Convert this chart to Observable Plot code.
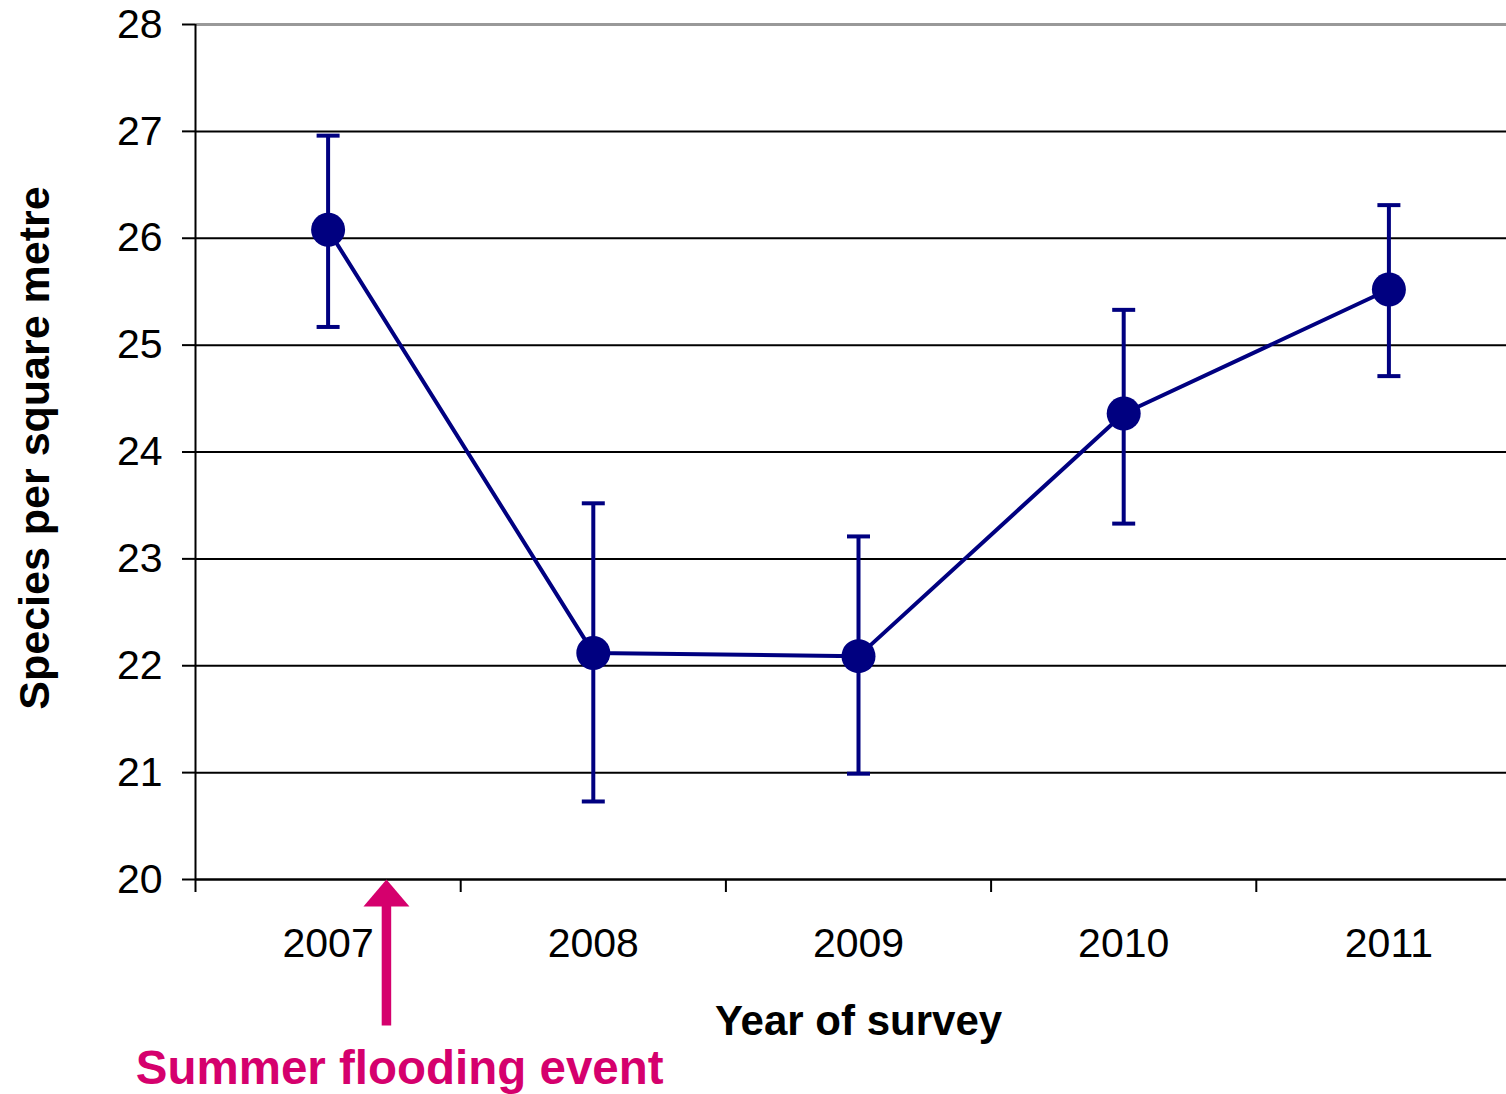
<!DOCTYPE html>
<html>
<head>
<meta charset="utf-8">
<script src="https://cdn.jsdelivr.net/npm/d3@7"></script>
<script src="https://cdn.jsdelivr.net/npm/@observablehq/plot@0.6"></script>
<style>
  html, body { margin: 0; padding: 0; background: #fff; overflow: hidden; }
</style>
</head>
<body>
<div id="chart"></div>
<script>
const years = [2007, 2008, 2009, 2010, 2011];
const means = [26.08, 22.12, 22.09, 24.36, 25.52];
const lower = [25.17, 20.73, 20.99, 23.33, 24.71];
const upper = [26.96, 23.52, 23.21, 25.33, 26.31];
const yTicks = [20, 21, 22, 23, 24, 25, 26, 27, 28];
const xBoundaries = [2006.5, 2007.5, 2008.5, 2009.5, 2010.5, 2011.5];
const xLabel = "Year of survey";
const yLabel = "Species per square metre";
const annotation = "Summer flooding event";

const data = years.map((y, i) => ({year: y, mean: means[i], lo: lower[i], hi: upper[i]}));

const navy = "#000080";
const magenta = "#D5006D";
const font = "'Liberation Sans', Arial, sans-serif";

// annotation arrow placement (in data units)
const arrowX = 2007.22;
const arrowTail = 18.63;
const arrowHeadBase = 19.78;
const arrowTip = 20.0;

const capSymbol = {draw(ctx) { ctx.moveTo(-11.5, 0); ctx.lineTo(11.5, 0); }};
const headSymbol = {draw(ctx) { ctx.moveTo(0, -13.5); ctx.lineTo(23, 13.5); ctx.lineTo(-23, 13.5); ctx.closePath(); }};

const chart = Plot.plot({
  width: 1506,
  height: 1094,
  marginTop: 24,
  marginBottom: 215,
  marginLeft: 195,
  marginRight: 0,
  style: {fontFamily: font, background: "#fff", overflow: "visible"},
  x: {type: "linear", domain: [2006.5, 2011.5], range: [195, 1521]},
  y: {domain: [20, 28], range: [879, 24]},
  marks: [
    // gridlines
    Plot.ruleY(yTicks.filter(d => d > 20 && d < 28), {x1: 2006.5, x2: 2011.5, stroke: "#000", strokeWidth: 2}),
    Plot.ruleY([28], {x1: 2006.5, x2: 2011.5, stroke: "#999", strokeWidth: 3}),
    // axes lines
    Plot.ruleX([2006.5], {y1: 20, y2: 28, stroke: "#000", strokeWidth: 2}),
    Plot.ruleY([20], {x1: 2006.5, x2: 2011.5, stroke: "#000", strokeWidth: 2.5}),
    Plot.axisY({ticks: yTicks, tickSize: 13, tickPadding: 20, fontSize: 41, strokeWidth: 2, tickFormat: d => String(d), color: "#000"}),
    Plot.axisX({ticks: xBoundaries, tickSize: 13, tickFormat: () => "", strokeWidth: 2, label: null}),
    Plot.axisX({ticks: years, tickSize: 0, tickPadding: 48, fontSize: 41, tickFormat: d => String(d), label: null}),
    // error bars
    Plot.ruleX(data, {x: "year", y1: "lo", y2: "hi", stroke: navy, strokeWidth: 4}),
    Plot.dot(data, {x: "year", y: "lo", symbol: capSymbol, fill: "none", stroke: navy, strokeWidth: 4}),
    Plot.dot(data, {x: "year", y: "hi", symbol: capSymbol, fill: "none", stroke: navy, strokeWidth: 4}),
    // line and points
    Plot.line(data, {x: "year", y: "mean", stroke: navy, strokeWidth: 4}),
    Plot.dot(data, {x: "year", y: "mean", r: 17, fill: navy, stroke: "none"}),
    // axis labels
    Plot.text([xLabel], {x: () => 2009, frameAnchor: "bottom", lineAnchor: "middle", dy: 142, fontSize: 42, fontWeight: "bold", fill: "#000"}),
    Plot.text([yLabel], {frameAnchor: "left", textAnchor: "middle", lineAnchor: "middle", dx: -160, dy: -4, rotate: -90, fontSize: 43, fontWeight: "bold", fill: "#000"}),
    // annotation arrow
    Plot.ruleX([arrowX], {y1: arrowTail, y2: arrowHeadBase, stroke: magenta, strokeWidth: 9.5}),
    Plot.dot([arrowX], {x: d => d, y: () => arrowTip, dy: 13.5, symbol: headSymbol, fill: magenta, stroke: "none"}),
    Plot.text([annotation], {x: () => 2007.27, frameAnchor: "bottom", lineAnchor: "middle", dy: 189, fontSize: 47.5, fontWeight: "bold", fill: magenta})
  ]
});
document.getElementById("chart").appendChild(chart);
</script>
</body>
</html>
